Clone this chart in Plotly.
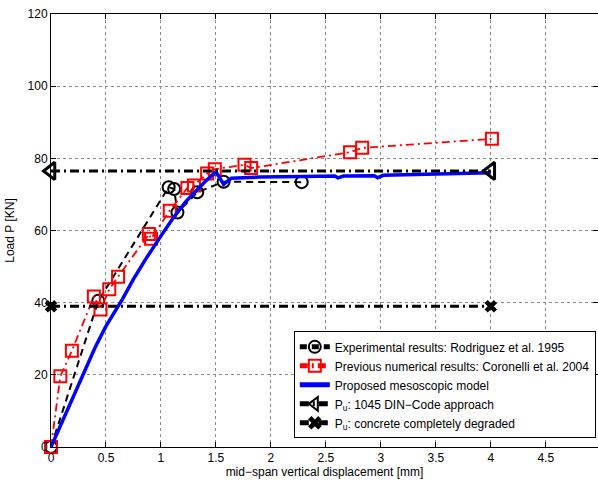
import plotly.graph_objects as go

# Experimental results (Rodriguez et al. 1995)
exp_x = [0.0, 0.43, 1.07, 1.12, 1.15, 1.33, 1.57, 2.28]
exp_y = [0.0, 40.5, 72.0, 71.5, 65.0, 70.6, 73.5, 73.4]

# Previous numerical results (Coronelli et al. 2004)
num_x = [0.0, 0.085, 0.19, 0.39, 0.45, 0.53, 0.61, 0.89, 0.91, 1.08, 1.24, 1.30,
         1.42, 1.49, 1.76, 1.82, 2.72, 2.83, 4.01]
num_y = [0.0, 19.6, 26.7, 41.7, 38.1, 43.7, 47.2, 59.0, 57.7, 65.5, 71.8, 72.5,
         75.8, 77.0, 78.2, 77.3, 81.7, 82.9, 85.4]

# Proposed mesoscopic model
mod_x = [0.0, 0.1, 0.2, 0.3, 0.4, 0.5, 0.65, 0.75, 0.86, 1.0, 1.1, 1.22, 1.32,
         1.4, 1.50, 1.57, 1.64, 1.90, 2.30, 2.58, 2.61, 2.66, 2.94, 2.97, 3.02,
         3.50, 4.00]
mod_y = [0.0, 7.0, 14.0, 21.0, 27.5, 33.5, 41.0, 46.5, 52.0, 58.5, 63.0, 67.8,
         71.0, 73.5, 76.3, 72.8, 74.5, 74.8, 75.0, 75.1, 74.6, 75.1, 75.2, 74.6,
         75.3, 75.6, 76.0]

# Ultimate load levels
din_x = [0.0, 4.0]
din_y = [76.5, 76.5]
deg_x = [0.0, 4.0]
deg_y = [39.0, 39.0]

x_ticks = [0, 0.5, 1, 1.5, 2, 2.5, 3, 3.5, 4, 4.5, 5]
y_ticks = [0, 20, 40, 60, 80, 100, 120]

FONT = "Liberation Sans, Arial, Helvetica, sans-serif"

fig = go.Figure()

fig.add_trace(go.Scatter(
    x=exp_x, y=exp_y, mode="lines+markers",
    name="Experimental results: Rodriguez et al. 1995",
    line=dict(color="black", width=2, dash="7px,5px"),
    marker=dict(symbol="circle-open", size=12, color="black", line=dict(width=2)),
    cliponaxis=False,
))
fig.add_trace(go.Scatter(
    x=num_x, y=num_y, mode="lines+markers",
    name="Previous numerical results: Coronelli et al. 2004",
    line=dict(color="#ff0000", width=1.8, dash="8px,4px,2px,4px"),
    marker=dict(symbol="square-open", size=12, color="#ff0000", line=dict(width=2)),
    cliponaxis=False,
))
fig.add_trace(go.Scatter(
    x=mod_x, y=mod_y, mode="lines",
    name="Proposed mesoscopic model",
    line=dict(color="#0000ff", width=3.5),
    cliponaxis=False,
))
fig.add_trace(go.Scatter(
    x=din_x, y=din_y, mode="lines+markers",
    name="P<sub>u</sub>: 1045 DIN\u2212Code approach",
    line=dict(color="black", width=3, dash="9px,4px,2px,4px"),
    marker=dict(symbol="triangle-left-open", size=15, color="black", line=dict(width=3)),
    cliponaxis=False,
))
fig.add_trace(go.Scatter(
    x=deg_x, y=deg_y, mode="lines+markers",
    name="P<sub>u</sub>: concrete completely degraded",
    line=dict(color="black", width=3, dash="9px,4px,2px,4px"),
    marker=dict(symbol="x", size=11, color="black", line=dict(width=0)),
    cliponaxis=False,
))

axis_common = dict(
    showline=True, linecolor="black", linewidth=1, mirror="ticks",
    ticks="inside", ticklen=5, tickwidth=1, tickcolor="black",
    showgrid=True, gridcolor="#8a8a8a", gridwidth=1, griddash="dot",
    zeroline=False,
    tickfont=dict(family=FONT, size=12, color="black"),
)

fig.update_xaxes(
    range=[0, 4.975], tickvals=x_ticks, ticktext=[str(t) for t in x_ticks],
    title=dict(text="mid\u2212span vertical displacement [mm]",
               font=dict(family=FONT, size=12, color="black"), standoff=2),
    **axis_common,
)
fig.update_yaxes(
    range=[0, 120], tickvals=y_ticks,
    title=dict(text="Load P [KN]", font=dict(family=FONT, size=12, color="black"),
               standoff=10),
    **axis_common,
)

fig.update_layout(
    width=598, height=482,
    margin=dict(l=51, r=0, t=14, b=35),
    paper_bgcolor="white", plot_bgcolor="white",
    font=dict(family=FONT, size=12, color="black"),
    showlegend=True,
    legend=dict(
        x=0.996, y=0.02, xanchor="right", yanchor="bottom",
        bgcolor="white", bordercolor="black", borderwidth=1,
        font=dict(family=FONT, size=12, color="black"),
        tracegroupgap=0, itemsizing="constant",
    ),
)

fig.write_html("out.html")
